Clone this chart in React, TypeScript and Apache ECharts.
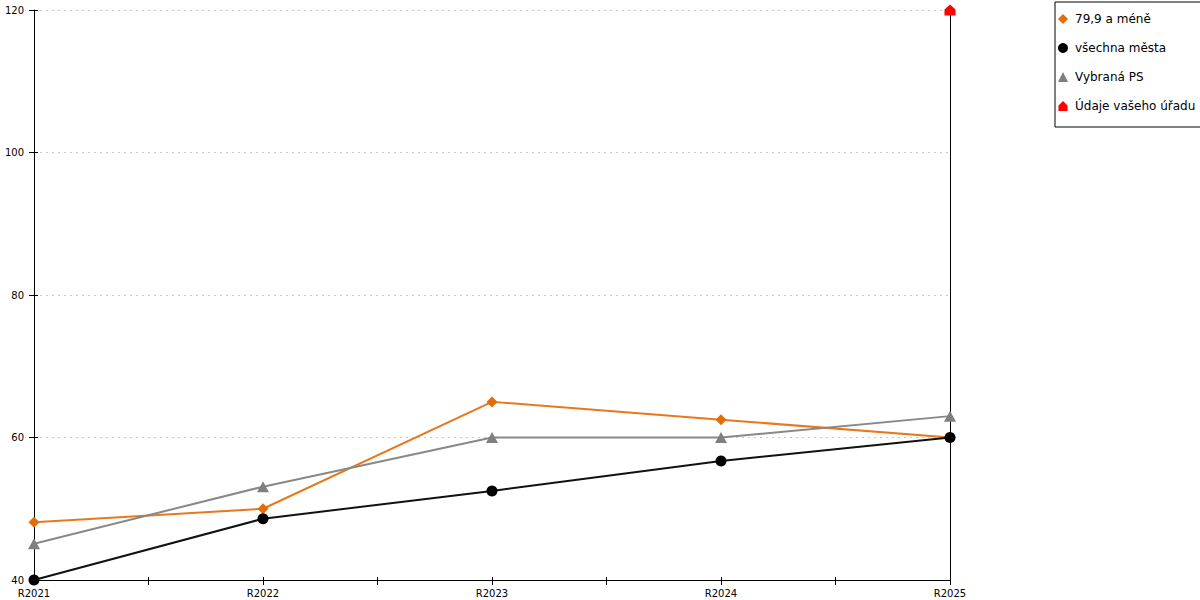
import React, { useEffect, useRef } from "react";
import * as echarts from "echarts";

const categories = ["R2021", "R2022", "R2023", "R2024", "R2025"];
const seriesNames = ["79,9 a méně", "všechna města", "Vybraná PS", "Údaje vašeho úřadu"];
const orangeValues = [48.1, 50.0, 65.0, 62.5, 60.0];
const blackValues = [40.0, 48.6, 52.5, 56.7, 60.0];
const grayValues = [45.1, 53.1, 60.0, 60.0, 63.0];
const redValues: (number | null)[] = [null, null, null, null, 120];
const yTicks = [40, 60, 80, 100, 120];

const HOUSE = "path://M5,0 L10,5 L10,11 L0,11 L0,5 Z";
const FONT = "DejaVu Sans";

function pairs(vals: (number | null)[]) {
  return vals
    .map((v, i) => (v === null ? null : [i, v]))
    .filter((p) => p !== null);
}

export default function App() {
  const ref = useRef<HTMLDivElement>(null);
  useEffect(() => {
    document.body.style.margin = "0";
    const chart = echarts.init(ref.current!, null, { renderer: "svg" });
    const yMin = yTicks[0];
    const yMax = yTicks[yTicks.length - 1];
    const yInt = yTicks[1] - yTicks[0];
    chart.setOption({
      animation: false,
      grid: { left: 34, right: 250, top: 10, bottom: 20, containLabel: false },
      legend: {
        orient: "vertical",
        left: 1055,
        top: 2,
        padding: [10, 6, 14, 3],
        itemWidth: 10,
        itemHeight: 10,
        itemGap: 15,
        borderColor: "#000",
        borderWidth: 1,
        selectedMode: false,
        textStyle: { fontFamily: FONT, fontSize: 12, color: "#000", lineHeight: 14, padding: [0, 0, 0, 2] },
        data: [
          { name: seriesNames[0], icon: "diamond", itemStyle: { color: "#e46c0a" } },
          { name: seriesNames[1], icon: "circle", itemStyle: { color: "#000" } },
          { name: seriesNames[2], icon: "triangle", itemStyle: { color: "#7f7f7f" } },
          { name: seriesNames[3], icon: HOUSE, itemStyle: { color: "#ff0000" } },
        ],
      },
      xAxis: [
        {
          type: "value",
          min: 0,
          max: categories.length - 1,
          interval: 0.5,
          axisLine: { show: true, lineStyle: { color: "#000", width: 1 } },
          axisTick: { show: true, length: 5, lineStyle: { color: "#000" } },
          splitLine: { show: false },
          axisLabel: {
            margin: 8,
            fontFamily: FONT,
            fontSize: 10,
            color: "#000",
            formatter: (v: number) => (Number.isInteger(v) ? categories[v] : ""),
          },
        },
        {
          type: "value",
          position: "bottom",
          min: 0,
          max: categories.length - 1,
          interval: 0.5,
          axisLine: { show: false },
          axisTick: { show: true, inside: true, length: 3, lineStyle: { color: "#000" } },
          splitLine: { show: false },
          axisLabel: { show: false },
        },
      ],
      yAxis: [
        {
          type: "value",
          position: "left",
          min: yMin,
          max: yMax,
          interval: yInt,
          axisLine: { show: true, lineStyle: { color: "#000", width: 1 } },
          axisTick: { show: true, length: 5, lineStyle: { color: "#000" } },
          splitLine: { show: true, lineStyle: { color: "#c8c8c8", type: [2, 4], width: 1 } },
          axisLabel: { margin: 10, fontFamily: FONT, fontSize: 10, color: "#000" },
        },
        {
          type: "value",
          position: "left",
          min: yMin,
          max: yMax,
          interval: yInt,
          axisLine: { show: false },
          axisTick: { show: true, inside: true, length: 4, lineStyle: { color: "#000" } },
          splitLine: { show: false },
          axisLabel: { show: false },
        },
        {
          type: "value",
          position: "right",
          min: yMin,
          max: yMax,
          interval: yInt,
          axisLine: { show: true, lineStyle: { color: "#000", width: 1 } },
          axisTick: { show: false },
          splitLine: { show: false },
          axisLabel: { show: false },
        },
      ],
      series: [
        {
          name: seriesNames[0],
          type: "line",
          data: pairs(orangeValues),
          symbol: "diamond",
          symbolSize: 11,
          lineStyle: { color: "#e8781e", width: 2 },
          itemStyle: { color: "#e46c0a" },
        },
        {
          name: seriesNames[1],
          type: "line",
          data: pairs(blackValues),
          symbol: "circle",
          symbolSize: 11,
          lineStyle: { color: "#111", width: 2 },
          itemStyle: { color: "#000" },
        },
        {
          name: seriesNames[2],
          type: "line",
          data: pairs(grayValues),
          symbol: "triangle",
          symbolSize: [12, 11],
          lineStyle: { color: "#888", width: 2 },
          itemStyle: { color: "#7f7f7f" },
        },
        {
          name: seriesNames[3],
          type: "line",
          data: pairs(redValues),
          symbol: HOUSE,
          symbolSize: [11, 11],
          lineStyle: { color: "#ff0000", width: 2 },
          itemStyle: { color: "#ff0000" },
          z: 5,
        },
      ],
    });
    return () => chart.dispose();
  }, []);
  return <div ref={ref} style={{ width: 1200, height: 600 }} />;
}
